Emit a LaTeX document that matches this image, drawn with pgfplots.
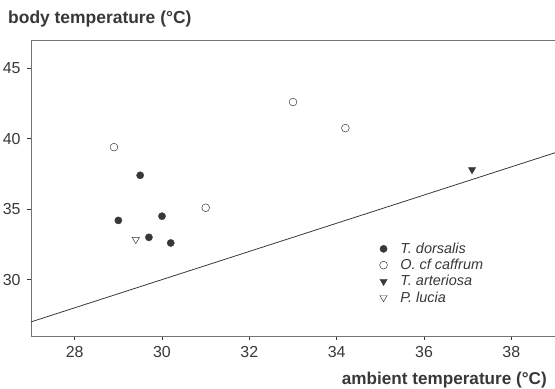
\documentclass[border=0pt]{standalone}
\usepackage{pgfplots}
\pgfplotsset{compat=1.18}
\usepackage{fontspec}
\setmainfont{Liberation Sans}
\definecolor{ink}{gray}{0.22}
\begin{document}
\begin{tikzpicture}
\begin{axis}[
  scale only axis, width=524bp, height=296bp,
  xmin=27, xmax=39, ymin=26, ymax=47,
  axis x line*=box, axis y line*=left,
  xtick={28,30,32,34,36,38}, ytick={30,35,40,45},
  xtick pos=left, ytick pos=left,
  tick align=outside, major tick length=4bp,
  tick style={ink, line width=0.6pt},
  axis line style={black!55, line width=0.7pt},
  /pgf/number format/assume math mode=true,
  ticklabel style={font=\fontsize{16}{18}\selectfont, text=ink},
  xticklabel style={yshift=-3bp},
  yticklabel style={xshift=-3bp},
  legend style={draw=none, fill=none, at={(0.665,0.322)}, anchor=north west,
    font=\itshape\fontsize{14.5}{16}\selectfont, text=ink,
    row sep=0.3bp, inner sep=0pt,
    /tikz/every odd column/.style={column sep=11bp}},
  legend cell align=left,
  legend image code/.code={\draw[#1] plot coordinates {(0bp,0bp)};},
]
\addplot[only marks, mark=*, mark size=3.6bp, draw=ink, fill=ink] coordinates {
  (29.5,37.4) (29.0,34.2) (30.0,34.5) (29.7,33.0) (30.2,32.6)};
\addlegendentry{T. dorsalis}
\addplot[only marks, mark=o, mark size=3.9bp, draw=ink, line width=0.5pt] coordinates {
  (28.9,39.4) (31.0,35.1) (33.0,42.6) (34.2,40.75)};
\addlegendentry{O. cf caffrum}
\addplot[only marks, mark=triangle*, mark size=4.2bp, draw=ink, fill=ink, mark options={rotate=180}] coordinates {
  (37.1,37.8)};
\addlegendentry{T. arteriosa}
\addplot[only marks, mark=triangle, mark size=4.2bp, draw=ink, line width=0.5pt, mark options={rotate=180}] coordinates {
  (29.4,32.85)};
\addlegendentry{P. lucia}
\addplot[ink, line width=0.8pt, forget plot] coordinates {(27,27) (39,39)};
\end{axis}
\node[anchor=base west, font=\bfseries\fontsize{17.5}{20}\selectfont, text=ink, inner sep=0pt]
  at ([shift={(-23bp,16.5bp)}]current axis.north west) {body temperature (°C)};
\node[anchor=base east, font=\bfseries\fontsize{17.2}{20}\selectfont, text=ink, inner sep=0pt]
  at ([shift={(-8bp,-48bp)}]current axis.south east) {ambient temperature (°C)};
\pgfresetboundingbox
\path[use as bounding box] ([shift={(-31bp,-53bp)}]current axis.south west) rectangle ([shift={(0bp,40bp)}]current axis.north east);
\end{tikzpicture}
\end{document}
